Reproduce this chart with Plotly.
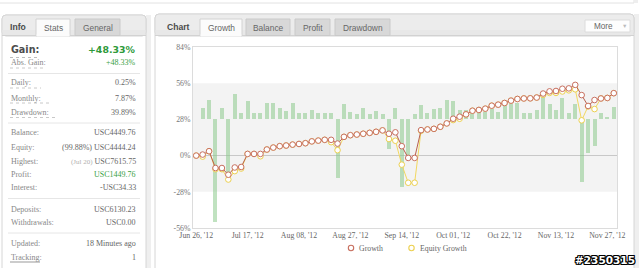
import plotly.graph_objects as go

# ---------------- data ----------------
tick_idx = [0, 8, 16, 24, 32, 40, 48, 56, 64]
tick_labels = ["Jun 26, '12", "Jul 17, '12", "Aug 08, '12", "Aug 27, '12", "Sep 14, '12",
               "Oct 01, '12", "Oct 22, '12", "Nov 13, '12", "Nov 27, '12"]

growth = [0, 0.8, 3.4, -9.6, -9.6, -14.8, -9.2, -8.8, 1.3, 1.3,
          1.3, 4.7, 6.2, 7.3, 7.8, 8.5, 9.0, 9.6, 11.0, 11.6,
          12.2, 12.2, 9.3, 14.5, 15.8, 16.3, 16.9, 17.6, 18.4, 19.5,
          16.9, 18.0, 7.3, -1.8, -1.8, 19.7, 20.2, 20.7, 22.3, 24.9,
          28.5, 30.1, 31.9, 34.7, 35.3, 36.3, 38.6, 39.4, 40.7, 42.5,
          43.8, 44.2, 44.3, 44.9, 48.0, 49.7, 50.0, 51.7, 52.0, 54.7,
          46.8, 38.4, 43.0, 44.2, 44.6, 48.3]

equity = [0, -0.8, 3.4, -10.5, -10.5, -18.5, -12.0, -10.0, 1.3, 1.3,
          -0.5, 4.7, 6.2, 7.3, 7.8, 8.5, 9.0, 9.6, 11.0, 11.6,
          12.2, 10.4, 4.2, 14.5, 15.8, 16.3, 16.9, 17.6, 18.4, 19.5,
          12.8, 11.5, -7.0, -21.0, -21.0, 19.2, 20.2, 20.7, 22.3, 24.9,
          27.5, 28.5, 31.9, 34.7, 35.3, 36.3, 38.6, 39.4, 40.7, 42.5,
          43.8, 44.2, 44.3, 44.9, 47.0, 48.5, 48.5, 49.6, 50.5, 51.3,
          27.3, 38.0, 36.0, 44.2, 44.6, 48.3]

bars = [0, 8.6, 14.8, -79.0, 8.6, -46.7, 19.4, 4.7, 14.3, 4.7,
        4.7, 12.4, 12.4, 8.6, 6.5, 12.4, 4.7, 4.7, 7.3, 4.7,
        4.7, 4.7, -45.4, 11.7, 5.8, 4.3, 8.6, 4.3, 6.3, 4.3,
        -22.7, 8.5, -52.4, -27.2, 3.9, 10.9, 4.7, 8.3, 9.1, 14.8,
        14.3, 7.0, 7.0, 5.7, 5.7, 5.7, 8.3, 5.7, 10.9, 13.0,
        13.0, 4.7, 4.7, 7.0, 17.4, 11.7, 7.0, 16.9, 5.2, 11.7,
        -48.8, -25.9, -20.7, 4.7, 2.1, 9.9]
bar_base = 28

y_ticks = [-56, -28, 0, 28, 56, 84]
y_tick_labels = ["-56%", "-28%", "0%", "28%", "56%", "84%"]

stats_top = [("Daily:", "0.25%"), ("Monthly:", "7.87%"), ("Drawdown:", "39.89%")]
stats_mid = [("Balance:", "USC4449.76"),
             ("Equity:", "(99.88%) USC4444.24"),
             ("Highest:", "<span style='color:#b0b0b0;font-size:7px'>(Jul 20)</span> USC7615.75"),
             ("Profit:", "USC1449.76"),
             ("Interest:", "-USC34.33")]
stats_dep = [("Deposits:", "USC6130.23"), ("Withdrawals:", "USC0.00")]
stats_bot = [("Updated:", "18 Minutes ago"), ("Tracking:", "1")]

# ---------------- helpers ----------------
W, H = 640, 268
def X(p): return p / W
def Y(p): return 1 - p / H

shapes = []
ann = []
SERIF = "Liberation Serif, Times New Roman, serif"
SANS = "Liberation Sans, Arial, sans-serif"
DSANS = "DejaVu Sans, Verdana, sans-serif"

def box(x0, y0, x1, y1, fill, line="rgba(0,0,0,0)", lw=1):
    shapes.append(dict(type="rect", xref="paper", yref="paper", x0=X(x0), x1=X(x1),
                       y0=Y(y1), y1=Y(y0), fillcolor=fill, line=dict(color=line, width=lw),
                       layer="below"))

def rbox(x0, y0, x1, y1, r, fill, line):
    p = (f"M {X(x0+r)},{Y(y0)} L {X(x1-r)},{Y(y0)} Q {X(x1)},{Y(y0)} {X(x1)},{Y(y0+r)} "
         f"L {X(x1)},{Y(y1-r)} Q {X(x1)},{Y(y1)} {X(x1-r)},{Y(y1)} L {X(x0+r)},{Y(y1)} "
         f"Q {X(x0)},{Y(y1)} {X(x0)},{Y(y1-r)} L {X(x0)},{Y(y0+r)} Q {X(x0)},{Y(y0)} {X(x0+r)},{Y(y0)} Z")
    shapes.append(dict(type="path", xref="paper", yref="paper", path=p, fillcolor=fill,
                       line=dict(color=line, width=1), layer="below"))

def hline(x0, x1, y, color, lw=1, dash="solid"):
    shapes.append(dict(type="line", xref="paper", yref="paper", x0=X(x0), x1=X(x1),
                       y0=Y(y), y1=Y(y), line=dict(color=color, width=lw, dash=dash), layer="below"))

def txt(x, y, s, size, color, family, anchor="left", **kw):
    d = dict(xref="paper", yref="paper", x=X(x), y=Y(y), text=s, showarrow=False,
             xanchor=anchor, yanchor="middle", borderpad=0,
             font=dict(size=size, color=color, family=family))
    d["font"].update(kw)
    ann.append(d)

# ---------------- page chrome ----------------
box(-5, -10, 634, 3, "white", "#e2e2e2")
box(634, -10, 638, 3, "#eeeeee")

# left panel
box(146, 15, 151, 270, "#efefef")
rbox(2, 15, 146, 275, 4, "white", "#d6d6d6")
rbox(2, 15, 146, 36, 4, "#ececec", "#d6d6d6")
box(2.5, 30, 145.5, 35.5, "#e8e8e8")
hline(2, 146, 35.5, "#d2d2d2")
box(36, 19, 70, 36, "#fbfbfb", "#d2d2d2")
box(36.5, 34.5, 69.5, 36.5, "#fbfbfb")
box(75, 19, 120, 35.5, "#d8d8d8", "#cacaca")
txt(9, 27, "Info", 8.6, "#4a4a4a", SANS, weight="bold")
txt(53, 28, "Stats", 8.4, "#666666", SANS, anchor="center")
txt(97.5, 28, "General", 8.4, "#666666", SANS, anchor="center")

txt(9.5, 49.5, "Gain:", 9.6, "#4d4d4d", DSANS, weight="bold")
txt(137, 49.5, "+48.33%", 9.4, "#2e9a3a", DSANS, anchor="right", weight="bold")
hline(10, 37, 57.5, "#bdbdbd", 1, "dot")
txt(9.5, 62.5, "Abs. Gain:", 8, "#888888", SERIF)
txt(137, 62.5, "+48.33%", 8, "#3aa044", SERIF, anchor="right")
hline(10, 45, 68, "#c8c8c8", 1, "dot")
hline(8, 140, 73.5, "#e6e6e6")

ys = [83, 98, 112.5]
ul = [31, 41, 48]
for (lab, val), yy, w in zip(stats_top, ys, ul):
    txt(9.5, yy, lab, 8, "#888888", SERIF)
    txt(137, yy, val, 8, "#666666", SERIF, anchor="right")
    hline(10, 10 + w, yy + 5, "#c8c8c8", 1, "dot")
hline(8, 140, 123, "#e6e6e6")

ys = [133, 147.5, 161, 174, 187]
for (lab, val), yy in zip(stats_mid, ys):
    col = "#3aa044" if lab == "Profit:" else "#666666"
    txt(9.5, yy, lab, 8, "#888888", SERIF)
    txt(137, yy, val, 8, col, SERIF, anchor="right")
hline(8, 140, 198.5, "#e6e6e6")

for (lab, val), yy in zip(stats_dep, [209, 222]):
    txt(9.5, yy, lab, 8, "#888888", SERIF)
    txt(137, yy, val, 8, "#666666", SERIF, anchor="right")
hline(8, 140, 233, "#e6e6e6")

for (lab, val), yy in zip(stats_bot, [243, 257.5]):
    txt(9.5, yy, lab, 8, "#888888", SERIF)
    txt(137, yy, val, 8, "#666666", SERIF, anchor="right")
hline(10, 40, 262, "#999999")

# right panel
box(634, 14, 639, 270, "#efefef")
rbox(155, 14, 634, 275, 4, "white", "#d6d6d6")
rbox(155, 14, 634, 36, 4, "#ececec", "#d6d6d6")
box(155.5, 30, 633.5, 35.5, "#e8e8e8")
hline(155, 634, 35.5, "#d2d2d2")
box(200, 19, 242, 36, "#fbfbfb", "#d2d2d2")
box(200.5, 34.5, 241.5, 36.5, "#fbfbfb")
box(246, 19, 290, 35.5, "#d8d8d8", "#cacaca")
box(295, 19, 330, 35.5, "#d8d8d8", "#cacaca")
box(335, 19, 390, 35.5, "#d8d8d8", "#cacaca")
txt(166, 27, "Chart", 8.6, "#4a4a4a", SANS, weight="bold")
txt(221, 28, "Growth", 8.4, "#666666", SANS, anchor="center")
txt(268, 28, "Balance", 8.4, "#666666", SANS, anchor="center")
txt(312.5, 28, "Profit", 8.4, "#666666", SANS, anchor="center")
txt(362.5, 28, "Drawdown", 8.4, "#666666", SANS, anchor="center")
box(585, 20, 630, 32, "#fdfdfd", "#dcdcdc")
txt(603.5, 26.5, "More", 8.2, "#666666", SANS, anchor="center")
txt(624, 26.5, "▼", 5.5, "#bbbbbb", SANS, anchor="center")

# chart inner shading band
shapes.append(dict(type="rect", xref="x domain", yref="y", x0=0, x1=1, y0=-28, y1=56,
                   fillcolor="#f3f3f3", line=dict(width=0), layer="below"))

# manual legend
def leg_marker(cx, cy, col):
    shapes.append(dict(type="circle", xref="paper", yref="paper",
                       x0=X(cx - 2.7), x1=X(cx + 2.7), y0=Y(cy + 2.7), y1=Y(cy - 2.7),
                       fillcolor="white", line=dict(color=col, width=1.1), layer="above"))
leg_marker(351, 248, "#c87060")
txt(358, 248.5, "Growth", 7.8, "#666666", SERIF)
leg_marker(411.5, 248, "#ecd050")
txt(418.5, 248.5, "Equity Growth", 7.8, "#666666", SERIF)

# watermark
txt(636, 259.5, "#2350315", 10.5, "white", DSANS, anchor="right", weight="bold",
    shadow="1px 1px 0 #000, -1px -1px 0 #000, 1px -1px 0 #000, -1px 1px 0 #000, 0 1px 0 #000, 0 -1px 0 #000, 1px 0 0 #000, -1px 0 0 #000")

# ---------------- traces ----------------
idx = list(range(len(growth)))
fig = go.Figure()
fig.add_trace(go.Bar(x=idx, y=bars, base=bar_base, width=0.62,
                     marker=dict(color="rgba(135,200,135,0.52)", line=dict(width=0)),
                     showlegend=False, hoverinfo="skip"))
fig.add_trace(go.Scatter(x=idx, y=equity, mode="lines+markers", name="Equity Growth",
                         line=dict(color="#f2d860", width=1),
                         marker=dict(symbol="circle", size=5.6, color="white",
                                     line=dict(color="#ecd050", width=1))))
fig.add_trace(go.Scatter(x=idx, y=growth, mode="lines+markers", name="Growth",
                         line=dict(color="#b8604e", width=1),
                         marker=dict(symbol="circle", size=5.6, color="white",
                                     line=dict(color="#c87060", width=1))))

fig.update_layout(
    width=W, height=H,
    margin=dict(l=0, r=0, t=0, b=0, autoexpand=False),
    paper_bgcolor="white", plot_bgcolor="rgba(0,0,0,0)",
    showlegend=False, bargap=0,
    shapes=shapes, annotations=ann,
    xaxis=dict(domain=[193 / W, 617 / W], range=[-0.5, 65.5], tickvals=tick_idx,
               ticktext=tick_labels, showgrid=False, zeroline=False,
               showline=True, linecolor="#dcdcdc", linewidth=1, mirror=True,
               ticks="", tickfont=dict(family=SERIF, size=7.8, color="#666666")),
    yaxis=dict(domain=[1 - 228 / H, 1 - 47 / H], range=[-56, 84], tickvals=y_ticks,
               ticktext=y_tick_labels, showgrid=False, zeroline=True, zerolinecolor="#c8c8c8",
               zerolinewidth=1, showline=True, linecolor="#dcdcdc", linewidth=1, mirror=True,
               ticks="", tickfont=dict(family=SERIF, size=7.8, color="#777777")),
)

fig.write_html("out.html", config={"displayModeBar": False})
